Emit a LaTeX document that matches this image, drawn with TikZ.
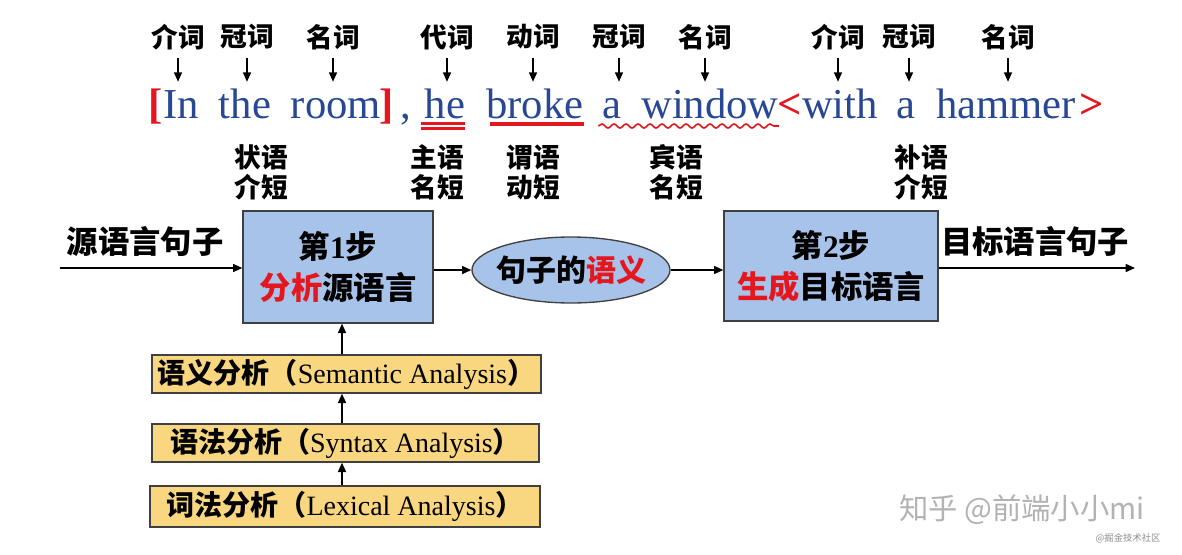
\documentclass[tikz,border=0pt]{standalone}
\usepackage{fontspec}
\setmainfont{Liberation Serif}
\newfontfamily\cjk{Noto Sans CJK SC}
\usetikzlibrary{arrows.meta,shapes.geometric,decorations.pathmorphing}
\definecolor{wordblue}{RGB}{40,72,150}
\definecolor{hired}{RGB}{228,22,30}
\definecolor{boxblue}{RGB}{168,195,234}
\definecolor{boxyellow}{RGB}{249,214,128}
\newcommand{\zh}[1]{{\cjk\bfseries #1}}
\tikzset{
	tag/.style = {font=\cjk\bfseries\fontsize{20}{22.5}\selectfont, inner sep=1pt},
	role/.style = {tag, align=center},
	word/.style = {font=\fontsize{32}{36}\selectfont, text=wordblue, anchor=base, inner sep=0pt, text height=22pt, text depth=7pt},
	brk/.style = {word, text=hired, font=\bfseries\fontsize{32}{36}\selectfont},
	stepbox/.style = {draw=black!75, line width=1pt, fill=boxblue, align=center, inner sep=0pt, font=\fontsize{23.5}{31}\selectfont},
	layer/.style = {draw=black!75, line width=1pt, fill=boxyellow, inner sep=0pt, minimum height=28.5pt, font=\fontsize{21}{24}\selectfont},
	side/.style = {font=\cjk\bfseries\fontsize{23.5}{26}\selectfont},
	arr/.style = {line width=1.1pt, -{Triangle[length=7pt,width=6pt]}}
}
\begin{document}
\begin{tikzpicture} [x=0.75pt, y=-0.75pt]
	\useasboundingbox (0,0) rectangle (1182,554);
	% part of speech tags
	\node [tag] (t1) at (178,37) {介词};
	\node [tag] (t2) at (247,37) {冠词};
	\node [tag] (t3) at (333,37) {名词};
	\node [tag] (t4) at (447,37) {代词};
	\node [tag] (t5) at (533,37) {动词};
	\node [tag] (t6) at (619,37) {冠词};
	\node [tag] (t7) at (705,37) {名词};
	\node [tag] (t8) at (838,37) {介词};
	\node [tag] (t9) at (909,37) {冠词};
	\node [tag] (t10) at (1008,37) {名词};
	% the sentence
	\node [brk] (lb) at (156,118) {[};
	\node [word] (w1) at (181,118) {In};
	\node [word] (w2) at (245,118) {the};
	\node [word] (w3) at (336,118) {room};
	\node [brk] (rb) at (387,118) {]};
	\node [word] (cm) at (406,118) {,};
	\node [word] (w4) at (445,118) {he};
	\node [word] (w5) at (535,118) {broke};
	\node [word] (w6) at (612,118) {a};
	\node [word] (w7) at (710,118) {window};
	\node [brk] (la) at (790,118) {<};
	\node [word] (w8) at (840,118) {with};
	\node [word] (w9) at (906,118) {a};
	\node [word] (w10) at (1006,118) {hammer};
	\node [brk] (ra) at (1092,118) {>};
	\foreach \i in {1,...,10}
		\draw [arr, shorten <=5pt, shorten >=5pt] (t\i.south) -- (t\i.south |- w\i.north);
	% underlines
	\draw [hired, line width=2pt] ([xshift=-3pt, yshift=-4pt]w4.base west) -- ([yshift=-4pt]w4.base east);
	\draw [hired, line width=2pt] ([xshift=-3pt, yshift=-8pt]w4.base west) -- ([yshift=-8pt]w4.base east);
	\draw [hired, line width=3pt] ([xshift=3pt, yshift=-4.5pt]w5.base west) -- ([yshift=-4.5pt]w5.base east);
	\draw [hired, line width=1.2pt, decorate, decoration={snake, amplitude=1.5pt, segment length=9pt}]
		([xshift=-3pt, yshift=-6pt]w6.base west) -- ([yshift=-6pt]w7.base east);
	% syntactic roles
	\node [role] (r1) at (261,172) {状语\\介短};
	\node [role] (r2) at (437,172) {主语\\名短};
	\node [role] (r3) at (533,172) {谓语\\动短};
	\node [role] (r4) at (676,172) {宾语\\名短};
	\node [role] (r5) at (921,172) {补语\\介短};
	% main pipeline
	\node [stepbox, minimum width=142.5pt, minimum height=84pt] (step1) at (338,267)
		{\zh{第}\textbf{1}\zh{步}\\{\color{hired}\zh{分析}}\zh{源语言}};
	\node [ellipse, draw=black!75, line width=1pt, fill=boxblue, minimum width=148.5pt, minimum height=49.5pt, inner xsep=-5pt, inner ysep=0pt,
		font=\cjk\bfseries\fontsize{22.5}{24}\selectfont] (sem) at (571,270) {句子的\textcolor{hired}{语义}};
	\node [stepbox, minimum width=160.5pt, minimum height=82.5pt] (step2) at (831,266)
		{\zh{第}\textbf{2}\zh{步}\\{\color{hired}\zh{生成}}\zh{目标语言}};
	\coordinate (in) at (60,268);
	\coordinate (out) at (1135,268);
	\node [side] (src) at (145,242) {源语言句子};
	\node [side] (tgt) at (1035,242) {目标语言句子};
	\draw [arr] (in) -- (in -| step1.west);
	\draw [arr] (step1.east |- sem.west) -- (sem.west);
	\draw [arr] (sem.east) -- (sem.east -| step2.west);
	\draw [arr] (step2.east |- out) -- (out);
	% analysis layers
	\node [layer, minimum width=291.75pt] (lay3) at (346.5,374) {\zh{语义分析（}Semantic Analysis\zh{）}};
	\node [layer, minimum width=290.25pt] (lay2) at (345.5,443) {\zh{语法分析（}Syntax Analysis\zh{）}};
	\node [layer, minimum width=292.5pt, minimum height=30.75pt] (lay1) at (345,506.5) {\zh{词法分析（}Lexical Analysis\zh{）}};
	\draw [arr] (lay1.north -| 342,0) -- (lay2.south -| 342,0);
	\draw [arr] (lay2.north -| 342,0) -- (lay3.south -| 342,0);
	\draw [arr] (lay3.north -| 342,0) -- (step1.south -| 342,0);
	% watermark
	\node [text=black!30, font=\cjk\fontsize{22}{26}\selectfont] (wm) at (1022,510) {知乎 @前端小小mi};
	\node [text=black!45, font=\cjk\fontsize{7}{8}\selectfont] (wm2) at (1128,538) {@掘金技术社区};
\end{tikzpicture}
\end{document}
